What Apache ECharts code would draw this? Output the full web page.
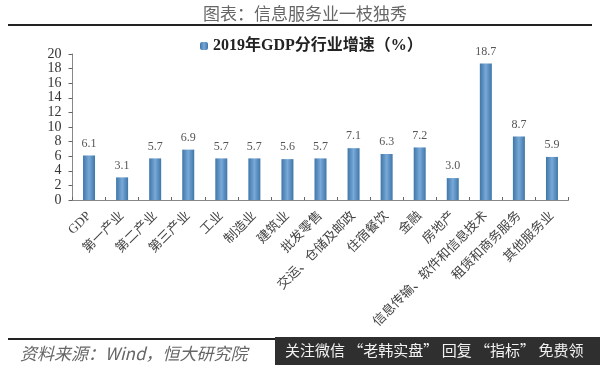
<!DOCTYPE html>
<html>
<head>
<meta charset="utf-8">
<style>
	html, body { margin: 0; padding: 0; background: #fff; }
	#chart-container { width: 600px; height: 365px; }
</style>
<script src="https://cdn.jsdelivr.net/npm/echarts@6/dist/echarts.min.js"></script>
</head>
<body>
<div id="chart-container"></div>
<script>
const categories = ['GDP', '第一产业', '第二产业', '第三产业', '工业', '制造业', '建筑业', '批发零售', '交运、仓储及邮政', '住宿餐饮', '金融', '房地产', '信息传输、软件和信息技术', '租赁和商务服务', '其他服务业'];
const growth = [6.1, 3.1, 5.7, 6.9, 5.7, 5.7, 5.6, 5.7, 7.1, 6.3, 7.2, 3.0, 18.7, 8.7, 5.9];
const seriesName = '2019年GDP分行业增速（%）';
const pageTitle = '图表：信息服务业一枝独秀';
const sourceText = '资料来源：Wind，恒大研究院';
const bannerText = '关注微信 “老韩实盘” 回复 “指标” 免费领';

const serif = '"Liberation Serif", "Noto Sans CJK SC", serif';
const cjk = '"Noto Sans CJK SC", sans-serif';

const myChart = echarts.init(document.getElementById('chart-container'), null, { renderer: 'canvas' });

const barColor = new echarts.graphic.LinearGradient(0, 0, 1, 0, [
	{ offset: 0, color: '#3f76a8' },
	{ offset: 0.5, color: '#78a9d8' },
	{ offset: 1, color: '#3f76a8' }
]);

const option = {
	animation: false,
	backgroundColor: '#fff',
	title: {
		text: pageTitle,
		left: 300,
		top: 0,
		textAlign: 'center',
		textStyle: { fontFamily: cjk, fontSize: 17, fontWeight: 'normal', color: '#666' }
	},
	legend: {
		data: [seriesName],
		top: 33,
		left: 195,
		itemWidth: 8,
		itemHeight: 8,
		itemGap: 3,
		textStyle: { fontFamily: serif, fontSize: 16, fontWeight: 'bold', color: '#222' }
	},
	grid: { left: 72.5, right: 31.5, top: 54, height: 146 },
	xAxis: {
		type: 'category',
		data: categories,
		axisLine: { lineStyle: { color: '#888' } },
		axisTick: { show: true, length: 3, inside: true, lineStyle: { color: '#666' } },
		axisLabel: {
			interval: 0,
			rotate: 45,
			margin: 14,
			fontFamily: serif,
			fontSize: 13,
			color: '#444'
		}
	},
	yAxis: {
		type: 'value',
		min: 0,
		max: 20,
		interval: 2,
		axisLine: { show: true, lineStyle: { color: '#888' } },
		axisTick: { show: true, length: 4, lineStyle: { color: '#666' } },
		axisLabel: { fontFamily: serif, fontSize: 14, color: '#333', margin: 11 },
		splitLine: { show: false }
	},
	series: [{
		name: seriesName,
		type: 'bar',
		data: growth,
		barWidth: 12,
		itemStyle: { color: barColor },
		label: {
			show: true,
			position: 'top',
			distance: 6,
			fontFamily: serif,
			fontSize: 12,
			color: '#555',
			formatter: params => params.value.toFixed(1)
		}
	}],
	graphic: [
		{ type: 'rect', shape: { x: 8, y: 24, width: 584, height: 2 }, style: { fill: '#222' } },
		{ type: 'rect', shape: { x: 8, y: 338, width: 268, height: 2 }, style: { fill: '#222' } },
		{ type: 'text', left: 20, top: 345, style: { text: sourceText, fontFamily: cjk, fontStyle: 'italic', fontSize: 17, fill: '#666' } },
		{ type: 'rect', shape: { x: 275, y: 337, width: 325, height: 28 }, style: { fill: '#2f2f2f' } },
		{ type: 'text', left: 285, top: 343, style: { text: bannerText, fontFamily: cjk, fontSize: 15, fill: '#f2f2f2' } }
	]
};

myChart.setOption(option);
</script>
</body>
</html>
